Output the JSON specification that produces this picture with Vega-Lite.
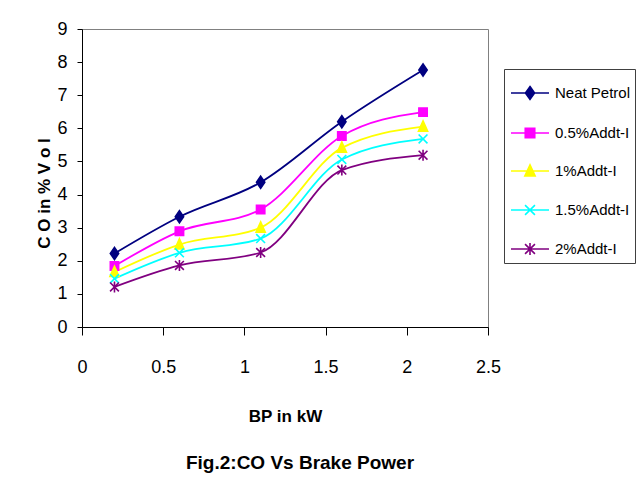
{
  "$schema": "https://vega.github.io/schema/vega-lite/v6.json",
  "width": 406,
  "height": 298,
  "autosize": "none",
  "padding": {"left": 82, "top": 29, "right": 155, "bottom": 177},
  "background": "white",
  "title": {
    "text": "Fig.2:CO Vs Brake Power",
    "orient": "bottom",
    "anchor": "middle",
    "font": "Liberation Sans",
    "fontSize": 19,
    "fontWeight": "bold",
    "color": "#000000",
    "offset": 30,
    "dx": 15
  },
  "data": {
    "values": [
      {"bp": 0.2, "co": 2.22, "series": "Neat Petrol"},
      {"bp": 0.6, "co": 3.33, "series": "Neat Petrol"},
      {"bp": 1.1, "co": 4.37, "series": "Neat Petrol"},
      {"bp": 1.6, "co": 6.2, "series": "Neat Petrol"},
      {"bp": 2.1, "co": 7.76, "series": "Neat Petrol"},
      {"bp": 0.2, "co": 1.84, "series": "0.5%Addt-I"},
      {"bp": 0.6, "co": 2.89, "series": "0.5%Addt-I"},
      {"bp": 1.1, "co": 3.55, "series": "0.5%Addt-I"},
      {"bp": 1.6, "co": 5.77, "series": "0.5%Addt-I"},
      {"bp": 2.1, "co": 6.49, "series": "0.5%Addt-I"},
      {"bp": 0.2, "co": 1.66, "series": "1%Addt-I"},
      {"bp": 0.6, "co": 2.49, "series": "1%Addt-I"},
      {"bp": 1.1, "co": 3.0, "series": "1%Addt-I"},
      {"bp": 1.6, "co": 5.41, "series": "1%Addt-I"},
      {"bp": 2.1, "co": 6.05, "series": "1%Addt-I"},
      {"bp": 0.2, "co": 1.46, "series": "1.5%Addt-I"},
      {"bp": 0.6, "co": 2.24, "series": "1.5%Addt-I"},
      {"bp": 1.1, "co": 2.67, "series": "1.5%Addt-I"},
      {"bp": 1.6, "co": 5.06, "series": "1.5%Addt-I"},
      {"bp": 2.1, "co": 5.68, "series": "1.5%Addt-I"},
      {"bp": 0.2, "co": 1.21, "series": "2%Addt-I"},
      {"bp": 0.6, "co": 1.86, "series": "2%Addt-I"},
      {"bp": 1.1, "co": 2.25, "series": "2%Addt-I"},
      {"bp": 1.6, "co": 4.74, "series": "2%Addt-I"},
      {"bp": 2.1, "co": 5.19, "series": "2%Addt-I"}
    ]
  },
  "encoding": {
    "x": {
      "field": "bp",
      "type": "quantitative",
      "scale": {"domain": [0, 2.5], "nice": false, "zero": false},
      "axis": {
        "title": "BP in kW",
        "values": [0, 0.5, 1, 1.5, 2, 2.5],
        "format": "~g",
        "grid": false,
        "tickSize": 8,
        "labelPadding": 23,
        "labelFont": "Liberation Sans",
        "labelFontSize": 18,
        "labelColor": "#000000",
        "domainColor": "#000000",
        "tickColor": "#000000",
        "labelFlush": false,
        "titleFont": "Liberation Sans",
        "titleFontSize": 17,
        "titleFontWeight": "bold",
        "titleColor": "#000000",
        "titleY": 81,
        "titleBaseline": "top"
      }
    },
    "y": {
      "field": "co",
      "type": "quantitative",
      "scale": {"domain": [0, 9], "nice": false},
      "axis": {
        "title": "C O  in  % V o l",
        "values": [0, 1, 2, 3, 4, 5, 6, 7, 8, 9],
        "grid": false,
        "tickSize": 5,
        "labelPadding": 10,
        "labelFont": "Liberation Sans",
        "labelFontSize": 18,
        "labelColor": "#000000",
        "domainColor": "#000000",
        "tickColor": "#000000",
        "labelFlush": false,
        "titleFont": "Liberation Sans",
        "titleFontSize": 17,
        "titleFontWeight": "bold",
        "titleColor": "#000000",
        "titleX": -29,
        "titleY": 164
      }
    },
    "color": {
      "field": "series",
      "type": "nominal",
      "scale": {
        "domain": ["Neat Petrol", "0.5%Addt-I", "1%Addt-I", "1.5%Addt-I", "2%Addt-I"],
        "range": ["#000080", "#FF00FF", "#FFFF00", "#00FFFF", "#800080"]
      },
      "legend": {
        "title": null,
        "orient": "none",
        "legendX": 422,
        "legendY": 40,
        "strokeColor": "#404040",
        "fillColor": "#FFFFFF",
        "padding": 4,
        "symbolOffset": 2,
        "rowPadding": 10,
        "symbolSize": 1444,
        "labelOffset": 5,
        "labelFont": "Liberation Sans",
        "labelFontSize": 15,
        "labelColor": "#000000",
        "labelLimit": 200,
        "encode": {
          "symbols": {
            "update": {
              "shape": {"signal": "datum.value === 'Neat Petrol' ? 'M-1,0H1M0,-0.34L0.24,0L0,0.34L-0.24,0Z' : datum.value === '0.5%Addt-I' ? 'M-1,0H1M-0.25,-0.25H0.25V0.25H-0.25Z' : datum.value === '1%Addt-I' ? 'M-1,0H1M0,-0.32L0.27,0.26H-0.27Z' : datum.value === '1.5%Addt-I' ? 'M-1,0H1M-0.26,-0.26L0.26,0.26M-0.26,0.26L0.26,-0.26' : 'M-1,0H1M-0.26,-0.26L0.26,0.26M-0.26,0.26L0.26,-0.26M0,-0.32L0,0.32'"},
              "fill": {"signal": "scale('color', datum.value)"},
              "stroke": {"signal": "scale('color', datum.value)"},
              "strokeWidth": {"value": 1.6},
              "opacity": {"value": 1},
              "fillOpacity": {"value": 1}
            }
          }
        }
      }
    }
  },
  "layer": [
    {
      "mark": {"type": "line", "interpolate": "monotone", "strokeWidth": 1.8},
      "encoding": {}
    },
    {
      "mark": {"type": "point", "filled": true, "opacity": 1, "size": 150, "strokeWidth": 1.6},
      "encoding": {
        "shape": {
          "field": "series",
          "type": "nominal",
          "scale": {
            "domain": ["2%Addt-I", "1.5%Addt-I", "1%Addt-I", "0.5%Addt-I", "Neat Petrol"],
            "range": [
              "M-0.72,-0.72L0.72,0.72M-0.72,0.72L0.72,-0.72M0,-0.9L0,0.9",
              "M-0.72,-0.72L0.72,0.72M-0.72,0.72L0.72,-0.72",
              "M0,-0.95L0.75,0.72H-0.75Z",
              "M-0.68,-0.68H0.68V0.68H-0.68Z",
              "M0,-1L0.68,0L0,1L-0.68,0Z"
            ]
          },
          "legend": null
        },
        "stroke": {
          "field": "series",
          "type": "nominal",
          "scale": {
            "domain": ["Neat Petrol", "0.5%Addt-I", "1%Addt-I", "1.5%Addt-I", "2%Addt-I"],
            "range": ["#000080", "#FF00FF", "#FFFF00", "#00FFFF", "#800080"]
          },
          "legend": null
        }
      }
    }
  ],
  "config": {
    "font": "Liberation Sans",
    "view": {"stroke": "#808080", "strokeWidth": 1}
  }
}
